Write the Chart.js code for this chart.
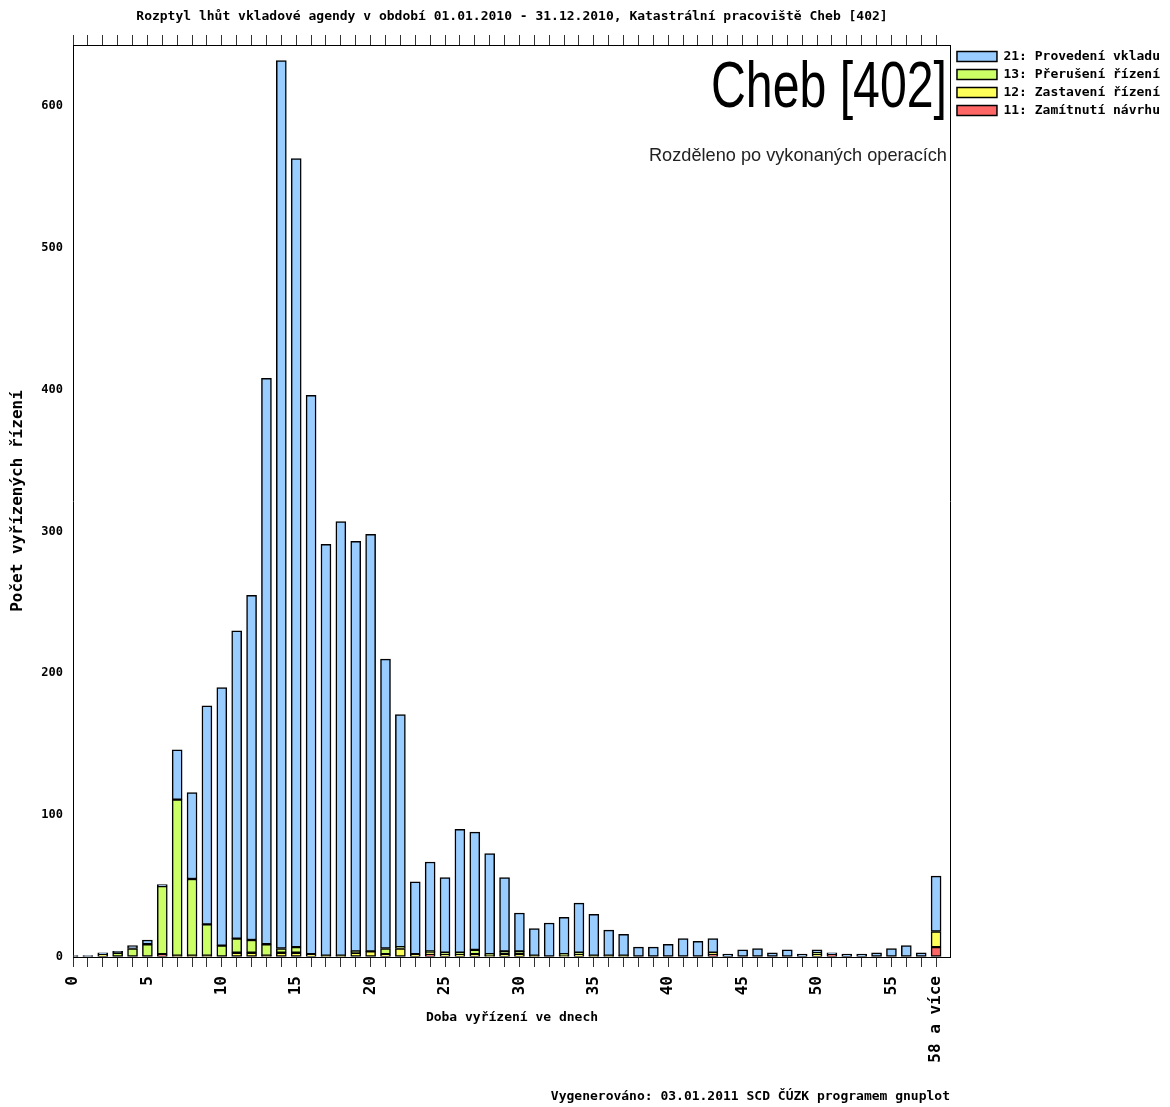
<!DOCTYPE html>
<html lang="cs">
<head>
<meta charset="utf-8">
<title>Rozptyl lhůt vkladové agendy - Cheb [402]</title>
<script src="https://cdn.jsdelivr.net/npm/chart.js@4.4.1/dist/chart.umd.min.js"></script>
<style>
  html, body { margin: 0; padding: 0; background: #fff; }
  canvas { display: block; }
</style>
</head>
<body>
<canvas id="myChart" width="1170" height="1107"></canvas>
<script>
'use strict';

// doba vyřízení ve dnech (poslední sloupec = 58 a více)
const dny = ['0','1','2','3','4','5','6','7','8','9','10','11','12','13','14','15','16','17','18','19',
  '20','21','22','23','24','25','26','27','28','29','30','31','32','33','34','35','36','37','38','39',
  '40','41','42','43','44','45','46','47','48','49','50','51','52','53','54','55','56','57','58 a více'];

const popisky = ['0','5','10','15','20','25','30','35','40','45','50','55','58 a více'];

// 11: Zamítnutí návrhu
const zamitnuti = [0,0,0,0,0,0,2,0,0,0, 0,0,0,0,0,0,0,0,0,0, 0,0,0,0,2,0,0,0,0,0,
  0,0,0,0,0,0,0,0,0,0, 0,0,0,2,0,0,0,0,0,0, 0,2,0,0,0,0,0,0,7];
// 12: Zastavení řízení
const zastaveni = [0,0,2,0,0,0,0,1,1,1, 0,3,3,1,3,3,2,1,1,3, 4,2,6,2,1,2,2,2,1,2,
  2,1,0,1,2,1,1,1,0,0, 0,0,0,1,0,0,0,0,0,0, 2,0,0,0,0,0,0,0,11];
// 13: Přerušení řízení
const preruseni = [0,0,0,3,6,9,48,110,54,22, 8,10,9,8,3,4,0,0,0,1, 0,4,1,0,1,1,1,3,1,2,
  2,0,0,1,1,0,0,0,0,0, 0,0,0,0,0,0,0,0,0,0, 1,0,0,0,0,0,0,0,0];
// 21: Provedení vkladu
const provedeni = [1,1,1,1,2,3,1,35,61,154, 182,217,243,399,626,556,394,290,306,289,
  294,204,164,51,63,53,87,83,71,52, 27,19,24,26,35,29,18,15,7,7,
  9,13,11,10,2,5,6,3,5,2, 2,1,2,2,3,6,8,3,39];

const titel = 'Rozptyl lhůt vkladové agendy v období 01.01.2010 - 31.12.2010, Katastrální pracoviště Cheb [402]';
const voetnoot = 'Vygenerováno: 03.01.2011 SCD ČÚZK programem gnuplot';
const mono = '"DejaVu Sans Mono", "Liberation Mono", monospace';

const init = function() {
  displayChart();
};

// tekst horizontaal schalen tot een bepaalde breedte (rechts uitgelijnd)
const tekstSmal = function(ctx, tekst, font, xRechts, y, breedte) {
  ctx.save();
  ctx.font = font;
  const w = ctx.measureText(tekst).width;
  ctx.translate(xRechts, y);
  ctx.scale(breedte / w, 1);
  ctx.textAlign = 'right';
  ctx.textBaseline = 'alphabetic';
  ctx.fillText(tekst, 0, 0);
  ctx.restore();
};

const tekstPlugin = {
  id: 'teksten',
  afterDraw: function(chart) {
    const ctx = chart.ctx;
    const area = chart.chartArea;
    ctx.save();
    ctx.fillStyle = '#000';
    ctx.font = 'bold 13px ' + mono;
    ctx.textAlign = 'center';
    ctx.textBaseline = 'middle';
    ctx.fillText(titel, (area.left + area.right) / 2, 17);
    ctx.textAlign = 'right';
    ctx.fillText(voetnoot, 950, 1097);
    ctx.restore();

    ctx.save();
    ctx.fillStyle = '#000';
    tekstSmal(ctx, 'Cheb [402]', '64px "Liberation Sans", Arial, sans-serif', area.right - 4, 107, 236);
    ctx.fillStyle = '#222';
    tekstSmal(ctx, 'Rozděleno po vykonaných operacích', '19px "Liberation Sans", Arial, sans-serif', area.right - 4, 161, 298);
    ctx.restore();
  }
};

const displayChart = function() {
  Chart.defaults.font.family = mono;
  Chart.defaults.color = '#000';

  const ctx = document.getElementById('myChart');
  const labels = dny.concat(['']);
  const laatste = labels.length - 1;
  const tickKleur = function(c) {
    return c.index === laatste ? 'rgba(0,0,0,0)' : '#333';
  };

  const myChart = new Chart(ctx, {
    type: 'bar',
    data: {
      labels: labels,
      datasets: [
        { label: '11: Zamítnutí návrhu', data: zamitnuti, backgroundColor: 'rgb(255,102,102)' },
        { label: '12: Zastavení řízení', data: zastaveni, backgroundColor: 'rgb(255,255,90)' },
        { label: '13: Přerušení řízení', data: preruseni, backgroundColor: 'rgb(204,255,102)' },
        { label: '21: Provedení vkladu', data: provedeni, backgroundColor: 'rgb(153,204,255)' }
      ]
    },
    options: {
      responsive: false,
      animation: false,
      layout: { padding: { left: 0, right: 0, top: 0, bottom: 0 } },
      datasets: {
        bar: {
          barThickness: 10,
          borderWidth: 1.5,
          borderColor: '#000',
          borderSkipped: false
        }
      },
      plugins: {
        tooltip: { enabled: false },
        legend: {
          position: 'right',
          align: 'start',
          fullSize: false,
          reverse: true,
          maxWidth: 240,
          labels: {
            boxWidth: 40,
            boxHeight: 10,
            padding: 5,
            font: { size: 13, weight: 'bold' },
            color: '#000'
          }
        }
      },
      scales: {
        x: {
          stacked: true,
          offset: false,
          grid: {
            offset: false,
            drawOnChartArea: false,
            drawTicks: true,
            tickLength: 10,
            color: tickKleur
          },
          border: { display: true, color: '#000', width: 1 },
          ticks: {
            autoSkip: false,
            minRotation: 90,
            maxRotation: 90,
            padding: 9,
            font: { size: 16, weight: 'bold' },
            callback: function(value) {
              const lab = this.getLabelForValue(value);
              return popisky.includes(lab) ? lab : '';
            }
          },
          title: {
            display: true,
            text: 'Doba vyřízení ve dnech',
            font: { size: 13, weight: 'bold' },
            padding: { top: 0, bottom: 82 }
          },
          afterFit: function(scale) { scale.height = 150; }
        },
        x2: {
          type: 'category',
          position: 'top',
          labels: labels,
          offset: false,
          grid: {
            offset: false,
            drawOnChartArea: false,
            drawTicks: true,
            tickLength: 10,
            color: tickKleur
          },
          border: { display: true, color: '#000', width: 1 },
          ticks: { autoSkip: false, display: false },
          afterFit: function(scale) { scale.height = 45; }
        },
        y: {
          stacked: true,
          min: 0,
          max: 643,
          grid: { drawOnChartArea: false, drawTicks: false },
          border: { display: true, color: '#000', width: 1 },
          ticks: {
            stepSize: 100,
            padding: 10,
            font: { size: 12, weight: 'bold' },
            callback: function(value) {
              return value % 100 === 0 ? value : '';
            }
          },
          title: {
            display: true,
            text: 'Počet vyřízených řízení',
            font: { size: 16, weight: 'bold' },
            padding: { top: 8, bottom: 0 }
          },
          afterFit: function(scale) { scale.width = 73; }
        },
        y2: {
          position: 'right',
          min: 0,
          max: 643,
          grid: { display: false },
          border: { display: true, color: '#000', width: 1 },
          ticks: { display: false },
          afterFit: function(scale) { scale.width = 1; }
        }
      }
    },
    plugins: [tekstPlugin]
  });
  return myChart;
};

document.addEventListener('DOMContentLoaded', function() {
  init();
});
</script>
</body>
</html>
